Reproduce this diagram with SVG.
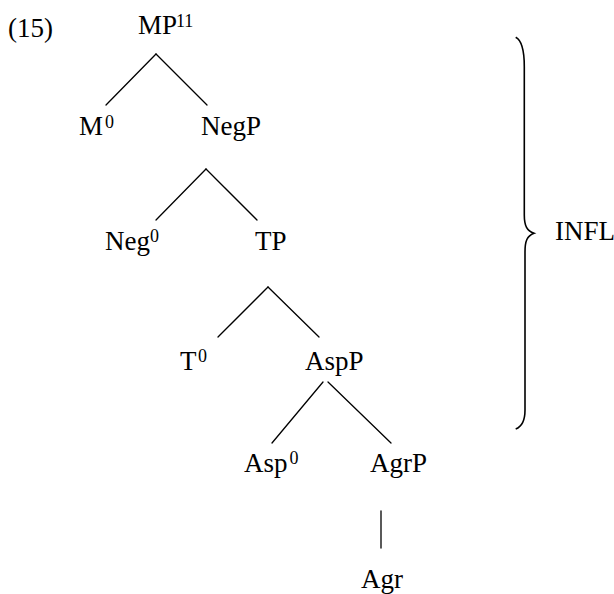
<svg xmlns="http://www.w3.org/2000/svg" width="614" height="594" viewBox="0 0 614 594">
  <style>
    text { font-family: "Liberation Serif", "Times New Roman", serif; fill: #000; }
    .lbl { font-size: 27px; }
    .sup { font-size: 18px; }
    .edge { stroke: #000; stroke-width: 1.3; fill: none; stroke-linecap: round; }
    .brace { stroke: #000; stroke-width: 1.6; fill: none; }
  </style>
  <rect width="614" height="594" fill="#fff"/>

  <text id="ex-num" class="lbl" x="8" y="37">(15)</text>

  <!-- tree branches -->
  <g id="connectors">
    <line class="edge" x1="156" y1="54" x2="106" y2="105"/>
    <line class="edge" x1="156" y1="54" x2="207" y2="105"/>
    <line class="edge" x1="206" y1="169" x2="156" y2="220"/>
    <line class="edge" x1="206" y1="169" x2="257" y2="220"/>
    <line class="edge" x1="268" y1="287" x2="218" y2="337"/>
    <line class="edge" x1="268" y1="287" x2="319" y2="337"/>
    <line class="edge" x1="323" y1="382" x2="272" y2="443"/>
    <line class="edge" x1="328" y1="382" x2="391" y2="443"/>
    <line class="edge" x1="381" y1="511" x2="381" y2="548"/>
  </g>

  <g id="MP"><text class="lbl" x="138" y="34">MP</text><text class="sup" x="176" y="27">11</text></g>
  <g id="M0"><text class="lbl" x="79" y="135">M</text><text class="sup" x="105" y="128">0</text></g>
  <g id="NegP"><text class="lbl" x="201" y="135">NegP</text></g>
  <g id="Neg0"><text class="lbl" x="105" y="250">Neg</text><text class="sup" x="150" y="242">0</text></g>
  <g id="TP"><text class="lbl" x="255" y="250">TP</text></g>
  <g id="T0"><text class="lbl" x="180" y="370">T</text><text class="sup" x="198" y="362">0</text></g>
  <g id="AspP"><text class="lbl" x="305" y="370">AspP</text></g>
  <g id="Asp0"><text class="lbl" x="244" y="472">Asp</text><text class="sup" x="289.5" y="464">0</text></g>
  <g id="AgrP"><text class="lbl" x="370" y="472">AgrP</text></g>
  <g id="Agr"><text class="lbl" x="361" y="588">Agr</text></g>

  <!-- brace spanning the INFL projections -->
  <g id="INFL">
    <path class="brace" d="M515.7,37.3 C521,40 524.3,48 524.3,66.7 L524.3,215 C524.3,226 527,231 534,233.3 C527,236 525,241 525,252 L525,410 C525,422 521,427 515.7,429"/>
    <text class="lbl" x="555" y="240">INFL</text>
  </g>
</svg>
